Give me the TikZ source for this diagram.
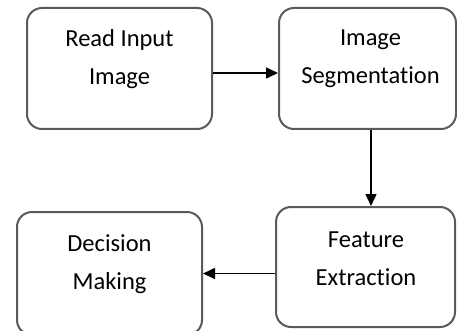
\documentclass[tikz,border=0pt]{standalone}
\usepackage{fontspec}
\setmainfont{Carlito}[Ligatures=NoCommon]
\usetikzlibrary{arrows.meta}
\definecolor{boxline}{HTML}{5A5A5A}
\tikzset{
  stage/.style={draw=boxline, line width=2pt, rounded corners=15pt,
    minimum width=#1, inner sep=0pt},
  caption/.style={font=\fontsize{24.5}{38}\selectfont, align=center,
    text=black, inner sep=0pt},
  flow/.style={draw=black, line width=1.5pt,
    -{Triangle[length=12pt,width=11pt]}},
}
\begin{document}
\begin{tikzpicture}[x=1pt,y=-1pt]
  \useasboundingbox (0,0) rectangle (457,331);
  % the four stages
  \node[stage=185pt, minimum height=121pt] (read) at (119.5,68.5) {};
  \node[stage=177pt, minimum height=121pt] (seg) at (367.5,68.5) {};
  \node[stage=179pt, minimum height=120pt] (feat) at (365.5,267) {};
  \node[stage=185pt, minimum height=123pt] (dec) at (109.5,273.5) {};
  % their labels
  \node[caption] (readtxt) at (119.5,59) {Read Input\\Image};
  \node[caption] (segtxt) at (370.5,59) {Image\\Segmentation};
  \node[caption] (feattxt) at (366,259) {Feature\\Extraction};
  \node[caption] (dectxt) at (109.5,264) {Decision\\Making};
  % connectors
  \draw[flow] ([yshift=-4.5pt]read.east) -- ([yshift=-4.5pt]seg.west);
  \draw[flow] ([xshift=3.5pt]seg.south) -- ([xshift=3.5pt]seg.south |- feat.north);
  \draw[flow] (dec.east -| feat.west) -- (dec.east);
\end{tikzpicture}
\end{document}
